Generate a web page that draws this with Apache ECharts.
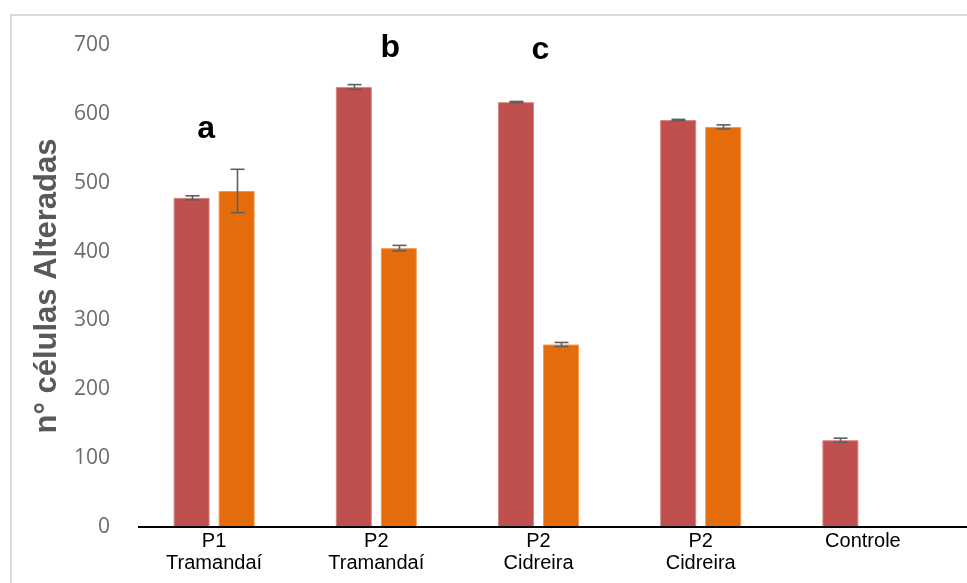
<!doctype html>
<html>

<head>
    <meta charset="utf-8">
    <title>células alteradas</title>
    <script type="text/javascript" src="https://cdn.jsdelivr.net/npm/echarts@6/dist/echarts.min.js"></script>
</head>

<body style="margin:0;padding:0;background:#fff">
    <div id="tb" style="width:967px;height:583px"></div>
    <script>
        // dados
        var categorias = ['P1\nTramandaí', 'P2\nTramandaí', 'P2\nCidreira', 'P2\nCidreira', 'Controle'];
        var serieA = [478, 639, 617, 591, 126];
        var serieAErro = [3, 3.5, 1, 1, 3];
        var serieB = [488, 405, 265, 581, null];
        var serieBErro = [31.5, 4, 3, 3, null];
        var letras = ['a', 'b', 'c'];
        var letrasCat = [0, 1, 2];
        var letrasValor = [578, 695, 692];
        var letrasDesloc = [-8, 14, 2]; // px, só ajuste visual
        var yTicks = [0, 100, 200, 300, 400, 500, 600, 700];

        var BAR_W = 36, GAP = 9;
        var cores = ['#C0504D', '#E46C0A'];

        var erroData = [];
        categorias.forEach(function (c, i) {
            if (serieA[i] != null) erroData.push([i, serieA[i], serieAErro[i], 0]);
            if (serieB[i] != null) erroData.push([i, serieB[i], serieBErro[i], 1]);
        });

        var bt = document.getElementById('tb');
        var btchart = echarts.init(bt);

        btchart.setOption({
            animation: false,
            grid: { left: 133, right: 23, top: 45, bottom: 56, containLabel: false },
            xAxis: {
                type: 'category',
                data: categorias,
                axisLine: { show: false },
                axisTick: { show: false },
                axisLabel: {
                    color: '#000', fontSize: 20, lineHeight: 22, margin: 3,
                    fontFamily: 'Liberation Sans, Arial, sans-serif', interval: 0
                }
            },
            yAxis: {
                type: 'value',
                min: yTicks[0], max: yTicks[yTicks.length - 1], interval: 100,
                name: 'n° células Alteradas',
                nameLocation: 'middle',
                nameGap: 70,
                nameRotate: 90,
                nameTextStyle: {
                    color: '#595959', fontSize: 31, fontWeight: 'bold',
                    fontFamily: 'Liberation Sans, Arial, sans-serif'
                },
                axisLine: { show: false },
                axisTick: { show: false },
                splitLine: { show: false },
                axisLabel: {
                    color: '#6b6b6b', fontSize: 21, margin: 23,
                    fontFamily: 'Open Sans, sans-serif'
                }
            },
            series: [{
                type: 'bar',
                data: serieA,
                barWidth: BAR_W,
                barGap: (GAP / BAR_W * 100) + '%',
                itemStyle: { color: cores[0], borderColor: '#D98886', borderWidth: 1 }
            }, {
                type: 'bar',
                data: serieB,
                barWidth: BAR_W,
                itemStyle: { color: cores[1], borderColor: '#F09A55', borderWidth: 1 }
            }, {
                type: 'custom',
                data: erroData,
                z: 5,
                renderItem: function (params, api) {
                    var i = api.value(0), v = api.value(1), e = api.value(2), s = api.value(3);
                    var c = api.coord([i, v]);
                    var x = Math.round(c[0] + (s === 0 ? -1 : 1) * (BAR_W + GAP) / 2) + 0.5;
                    var y1 = api.coord([i, v + e])[1];
                    var y2 = api.coord([i, v - e])[1];
                    var st = { stroke: '#5f5f5f', lineWidth: 1.6 };
                    return {
                        type: 'group',
                        children: [
                            { type: 'line', shape: { x1: x, y1: y1, x2: x, y2: y2 }, style: st },
                            { type: 'line', shape: { x1: x - 7, y1: y1, x2: x + 7, y2: y1 }, style: st },
                            { type: 'line', shape: { x1: x - 7, y1: y2, x2: x + 7, y2: y2 }, style: st }
                        ]
                    };
                }
            }, {
                type: 'scatter',
                symbolSize: 0,
                silent: true,
                itemStyle: { opacity: 1 },
                data: letras.map(function (l, k) {
                    return {
                        value: [letrasCat[k], letrasValor[k]],
                        name: l,
                        label: { offset: [letrasDesloc[k], 0] }
                    };
                }),
                label: {
                    show: true, position: 'inside',
                    formatter: '{b}',
                    color: '#000', textBorderWidth: 0, fontSize: 32, fontWeight: 'bold',
                    fontFamily: 'Liberation Sans, Arial, sans-serif'
                }
            }]
        });

        // moldura e linha do eixo x (vai até a borda direita)
        var y0 = btchart.convertToPixel({ yAxisIndex: 0 }, 0);
        btchart.setOption({
            graphic: [{
                type: 'rect',
                shape: { x: 11, y: 15, width: 1000, height: 1000 },
                style: { fill: 'none', stroke: '#D9D9D9', lineWidth: 2 }
            }, {
                type: 'line',
                shape: { x1: 138, y1: y0, x2: 967, y2: y0 },
                style: { stroke: '#000', lineWidth: 2 },
                z: 10
            }]
        });
    </script>
</body>

</html>
